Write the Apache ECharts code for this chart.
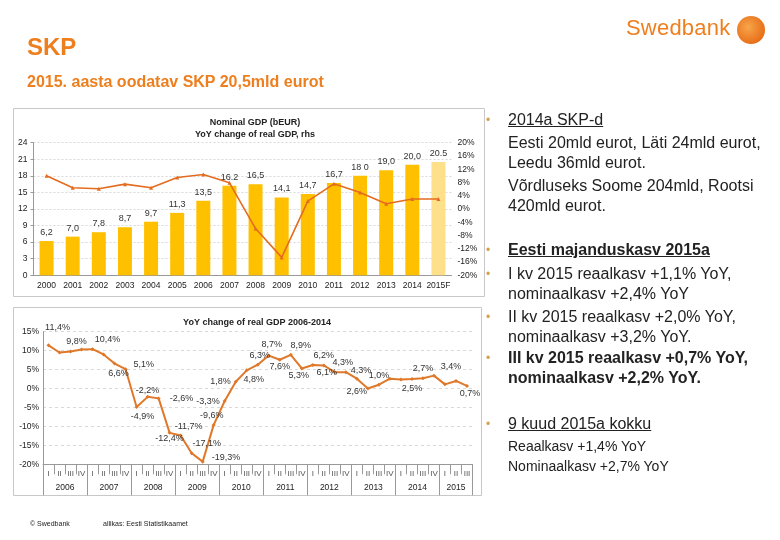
<!DOCTYPE html>
<html><head><meta charset="utf-8">
<script src="https://cdn.jsdelivr.net/npm/echarts@6/dist/echarts.min.js"></script>
<style>
body{margin:0;width:780px;height:540px;background:#fff;font-family:"Liberation Sans",Arial,sans-serif;overflow:hidden;position:relative}
#c{position:absolute;left:0;top:0;width:780px;height:540px}
.t{position:absolute;white-space:nowrap;color:#222;line-height:1}
.m{font-size:16px}
.s{font-size:14px}
.b{position:absolute;color:#D4A24C;font-size:12px;line-height:1}
</style></head><body>
<div id="c"></div>
<div class="t" style="left:27px;top:35px;font-size:24px;font-weight:bold;color:#EE7F1F">SKP</div>
<div class="t" style="left:27px;top:74px;font-size:16px;font-weight:bold;color:#EE7F1F">2015. aasta oodatav SKP 20,5mld eurot</div>
<div class="t" style="left:626px;top:17px;font-size:22px;color:#EE7F1F;letter-spacing:0.2px">Swedbank</div>
<div style="position:absolute;left:737px;top:16px;width:28px;height:28px;border-radius:50%;background:radial-gradient(circle at 40% 40%,#F7A54A,#E8701A 70%,#C85A10)"></div>

<div class="b" style="left:486px;top:114px">•</div>
<div class="t m" style="left:508px;top:112px;text-decoration:underline">2014a SKP-d</div>
<div class="t m" style="left:508px;top:135px">Eesti 20mld eurot, Läti 24mld eurot,</div>
<div class="t m" style="left:508px;top:155px">Leedu 36mld eurot.</div>
<div class="t m" style="left:508px;top:178px">Võrdluseks Soome 204mld, Rootsi</div>
<div class="t m" style="left:508px;top:198px">420mld eurot.</div>

<div class="b" style="left:486px;top:244px">•</div>
<div class="t m" style="left:508px;top:242px;font-weight:bold;text-decoration:underline">Eesti majanduskasv 2015a</div>
<div class="b" style="left:486px;top:268px">•</div>
<div class="t m" style="left:508px;top:266px">I kv 2015 reaalkasv +1,1% YoY,</div>
<div class="t m" style="left:508px;top:286px">nominaalkasv +2,4% YoY</div>
<div class="b" style="left:486px;top:311px">•</div>
<div class="t m" style="left:508px;top:309px">II kv 2015 reaalkasv +2,0% YoY,</div>
<div class="t m" style="left:508px;top:329px">nominaalkasv +3,2% YoY.</div>
<div class="b" style="left:486px;top:352px">•</div>
<div class="t m" style="left:508px;top:350px;font-weight:bold">III kv 2015 reaalkasv +0,7% YoY,</div>
<div class="t m" style="left:508px;top:370px;font-weight:bold">nominaalkasv +2,2% YoY.</div>

<div class="b" style="left:486px;top:418px">•</div>
<div class="t m" style="left:508px;top:416px;text-decoration:underline">9 kuud 2015a kokku</div>
<div class="t s" style="left:508px;top:439px">Reaalkasv +1,4% YoY</div>
<div class="t s" style="left:508px;top:459px">Nominaalkasv +2,7% YoY</div>

<div class="t" style="left:30px;top:520px;font-size:7px">© Swedbank</div>
<div class="t" style="left:103px;top:520px;font-size:7px">allikas: Eesti Statistikaamet</div>

<script>
// ---- Data ----
const years = ['2000','2001','2002','2003','2004','2005','2006','2007','2008','2009','2010','2011','2012','2013','2014','2015F'];
const nominalGDP = [6.2, 7.0, 7.8, 8.7, 9.7, 11.3, 13.5, 16.2, 16.5, 14.1, 14.7, 16.7, 18.0, 19.0, 20.0, 20.5];
const nominalLabels = ['6,2','7,0','7,8','8,7','9,7','11,3','13,5','16.2','16,5','14,1','14,7','16,7','18 0','19,0','20,0','20.5'];
const realGrowthYearly = [10.0, 6.4, 6.1, 7.5, 6.4, 9.5, 10.4, 7.9, -5.9, -14.6, 2.4, 7.6, 5.0, 1.6, 3.0, 3.0];

const quarters = ['I','II','III','IV','I','II','III','IV','I','II','III','IV','I','II','III','IV','I','II','III','IV',
  'I','II','III','IV','I','II','III','IV','I','II','III','IV','I','II','III','IV','I','II','III'];
const quarterYears = ['2006','2007','2008','2009','2010','2011','2012','2013','2014','2015'];
const realGrowthQuarterly = [11.4, 9.5, 9.8, 10.3, 10.4, 9.0, 6.6, 5.1, -4.9, -2.2, -2.6, -11.7, -12.4, -17.1, -19.3, -9.6,
  -3.3, 1.8, 4.8, 6.3, 8.7, 7.6, 8.9, 5.3, 6.2, 6.1, 4.3, 4.3, 2.6, 0.0, 1.0, 2.6, 2.4, 2.5, 2.7, 3.4, 1.1, 2.0, 0.7];
const labelledQuarters = [0,2,4,6,7,8,9,10,11,12,13,14,15,16,17,18,19,20,21,22,23,24,25,26,27,28,30,33,34,35,38];

// ---- Layout / style (not data): label side and nudge [dx, dy] ----
const labelPlacement = {
  0:['top',9,-8], 2:['top',6,0], 4:['top',15,0], 6:['bottom',4,0], 7:['right',3,-5],
  8:['bottom',6,0], 9:['top',0,3], 10:['right',6,0], 11:['right',0,-6], 12:['left',8,3],
  13:['top',15,0], 14:['right',4,-4], 15:['top',-2,0], 16:['left',0,0], 17:['left',0,0],
  18:['bottom',7,0], 19:['top',2,0], 20:['top',3,-2], 21:['bottom',0,-3], 22:['top',10,0],
  23:['bottom',-3,-2], 24:['top',11,0], 25:['bottom',3,-2], 26:['top',8,0], 27:['right',0,-2],
  28:['bottom',0,3], 30:['top',0,0], 33:['bottom',0,0], 34:['top',0,0], 35:['top',17,0], 38:['bottom',3,-2]
};
const fmtPct = v => v.toFixed(1).replace('.', ',') + '%';
const FONT = 'Liberation Sans';
const txt = '#333';

const qData = realGrowthQuarterly.map((v, i) => {
  const d = { value: v };
  if (labelledQuarters.indexOf(i) >= 0) {
    const p = labelPlacement[i] || ['top',0,0];
    d.label = { show: true, position: p[0], formatter: () => fmtPct(v) };
  }
  return d;
});
const barData = nominalGDP.map((v, i) => ({
  value: v,
  itemStyle: { color: i === nominalGDP.length - 1 ? '#FFE08A' : '#FFC000' }
}));

const chart = echarts.init(document.getElementById('c'), null, { renderer: 'canvas' });
chart.setOption({
  animation: false,
  textStyle: { fontFamily: FONT },
  title: [
    { text: 'Nominal GDP (bEUR)\nYoY change of real GDP, rhs', left: 250, top: 112, textAlign: 'center',
      textStyle: { fontSize: 9, fontWeight: 'bold', color: '#222', lineHeight: 12, fontFamily: FONT } },
    { text: 'YoY change of real GDP 2006-2014', left: 252, top: 313, textAlign: 'center',
      textStyle: { fontSize: 9, fontWeight: 'bold', color: '#222', fontFamily: FONT } }
  ],
  graphic: [
    { type: 'rect', shape: { x: 13.5, y: 108.5, width: 471, height: 188 }, style: { fill: 'none', stroke: '#C8C8C8', lineWidth: 1 }, silent: true },
    { type: 'rect', shape: { x: 13.5, y: 307.5, width: 468, height: 188 }, style: { fill: 'none', stroke: '#C8C8C8', lineWidth: 1 }, silent: true }
  ],
  grid: [
    { left: 33.5, top: 142.7, width: 418, height: 132.6 },
    { left: 43, top: 331.7, width: 429.5, height: 132.6 }
  ],
  xAxis: [
    { gridIndex: 0, type: 'category', data: years,
      axisLine: { onZero: false, lineStyle: { color: '#999' } }, axisTick: { show: false },
      axisLabel: { fontSize: 8.5, color: '#222', margin: 6, interval: 0 } },
    { gridIndex: 1, type: 'category', data: quarters,
      axisLine: { onZero: false, lineStyle: { color: '#999' } },
      axisTick: { show: true, length: 10, lineStyle: { color: '#999' } },
      axisLabel: { fontSize: 8, color: '#555', margin: 5, interval: 0 } },
    { gridIndex: 1, type: 'value', min: 0, max: 39, position: 'bottom',
      axisLine: { show: false, onZero: false },
      axisTick: { show: true, length: 31, lineStyle: { color: '#999' }, customValues: [0,4,8,12,16,20,24,28,32,36,39] },
      axisLabel: { fontSize: 8.5, color: '#222', margin: 19,
        customValues: [2,6,10,14,18,22,26,30,34,37.5],
        formatter: v => quarterYears[Math.floor(v / 4)] },
      splitLine: { show: false } }
  ],
  yAxis: [
    { gridIndex: 0, type: 'value', min: 0, max: 24, interval: 3,
      axisLine: { show: true, lineStyle: { color: '#999' } }, axisTick: { show: true, length: 3, lineStyle: { color: '#999' } },
      axisLabel: { fontSize: 8.5, color: '#222', margin: 6 },
      splitLine: { lineStyle: { color: '#D9D9D9', type: [2, 2] } } },
    { gridIndex: 0, type: 'value', min: -20, max: 20, interval: 4, position: 'right',
      axisLine: { show: false }, axisTick: { show: false },
      axisLabel: { fontSize: 8.5, color: '#222', margin: 6, formatter: v => v + '%' },
      splitLine: { show: false } },
    { gridIndex: 1, type: 'value', min: -20, max: 15, interval: 5,
      axisLine: { show: true, lineStyle: { color: '#999' } }, axisTick: { show: false },
      axisLabel: { fontSize: 8.5, color: '#222', margin: 4, formatter: v => v + '%' },
      splitLine: { lineStyle: { color: '#D9D9D9', type: [3, 3] } } }
  ],
  series: [
    { type: 'bar', xAxisIndex: 0, yAxisIndex: 0, data: barData, barWidth: 14,
      label: { show: true, position: 'top', distance: 4, fontSize: 9, color: txt,
        formatter: p => nominalLabels[p.dataIndex] } },
    { type: 'line', xAxisIndex: 0, yAxisIndex: 1, data: realGrowthYearly,
      lineStyle: { color: '#E36C1F', width: 1.6 }, itemStyle: { color: '#E36C1F' },
      symbol: 'triangle', symbolSize: 4, z: 5 },
    { type: 'line', xAxisIndex: 1, yAxisIndex: 2, data: qData,
      lineStyle: { color: '#E0782A', width: 2 }, itemStyle: { color: '#E0782A' },
      symbol: 'diamond', symbolSize: 4,
      label: { fontSize: 9, color: txt, distance: 3 },
      labelLayout: p => {
        const pl = labelPlacement[p.dataIndex];
        return pl ? { dx: pl[1], dy: pl[2], hideOverlap: false } : { hideOverlap: false };
      } }
  ]
});
</script>
</body></html>
